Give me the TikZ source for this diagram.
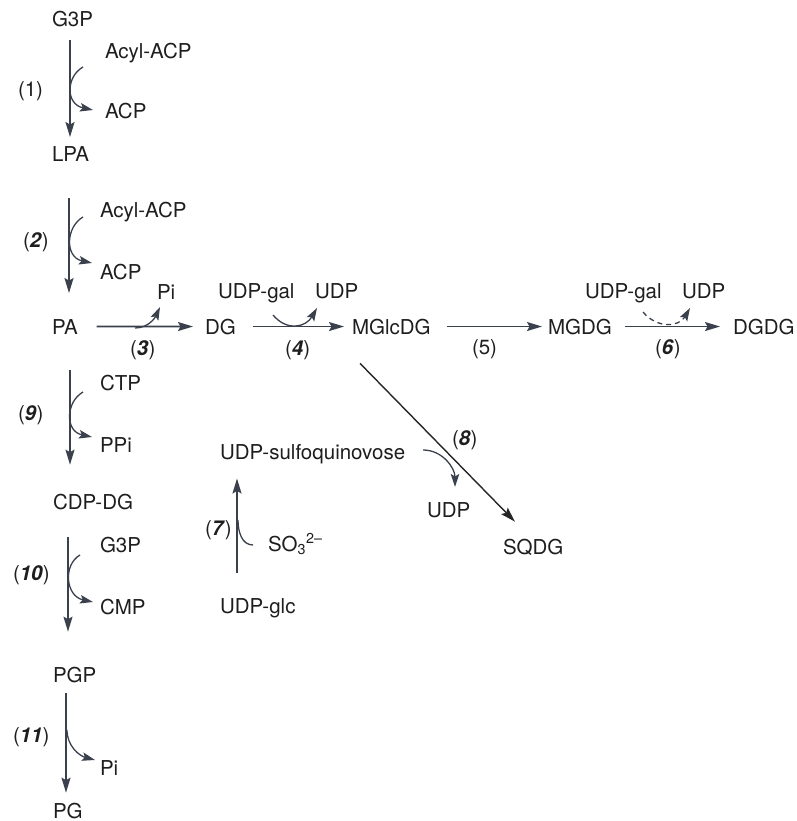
\documentclass[tikz,border=0pt]{standalone}
\usepackage{fontspec}
\setmainfont{TeX Gyre Heros}
\usetikzlibrary{arrows.meta}
\definecolor{rxngray}{RGB}{58,64,76}
\definecolor{txtblack}{RGB}{30,30,30}

\begin{document}
\begin{tikzpicture}[x=1pt,y=1pt,
    cpd/.style={anchor=base west,inner sep=0pt,outer sep=0pt,text=txtblack,font=\fontsize{20.5}{24}\selectfont},
    rxn/.style={line width=1.6pt,draw=rxngray,-{Stealth[length=15pt,width=9pt,inset=2.5pt]}},
    side/.style={line width=1.3pt,draw=rxngray,-{Stealth[length=13pt,width=8.5pt,inset=2.5pt]}}]
    \useasboundingbox (0,0) rectangle (796,-821);

    % glycerolipid backbone
    \node[cpd] (g3pA) at (52,-27) {G3P};
    \node[cpd] (acylA) at (105,-59) {Acyl-ACP};
    \node[cpd] (acpA) at (105,-119) {ACP};
    \node[cpd] (lbA) at (18,-97) {(1)};
    \node[cpd] (lpa) at (52,-162) {LPA};
    \node[cpd] (acylB) at (100,-217) {Acyl-ACP};
    \node[cpd] (lbB) at (23,-247) {(\textbf{\textit{2}})};
    \node[cpd] (acpB) at (100,-279) {ACP};
    \node[cpd] (pa) at (52,-334) {PA};

    % galactolipid branch
    \node[cpd] (piA) at (157,-299) {Pi};
    \node[cpd] (lbC) at (130,-355) {(\textbf{\textit{3}})};
    \node[cpd] (dg) at (205,-334) {DG};
    \node[cpd] (udpgalA) at (218,-298) {UDP-gal};
    \node[cpd] (udpA) at (315,-298) {UDP};
    \node[cpd] (lbD) at (285,-355) {(\textbf{\textit{4}})};
    \node[cpd] (mglcdg) at (352,-334) {MGlcDG};
    \node[cpd] (lbE) at (472,-354) {(5)};
    \node[cpd] (mgdg) at (548,-334) {MGDG};
    \node[cpd] (udpgalB) at (585,-298) {UDP-gal};
    \node[cpd] (udpB) at (682,-298) {UDP};
    \node[cpd] (lbF) at (655,-354) {(\textbf{\textit{6}})};
    \node[cpd] (dgdg) at (733,-334) {DGDG};

    % phospholipid branch
    \node[cpd] (ctp) at (100,-390) {CTP};
    \node[cpd] (lbI) at (18,-420) {(\textbf{\textit{9}})};
    \node[cpd] (ppi) at (100,-452) {PPi};
    \node[cpd] (cdpdg) at (53,-509) {CDP-DG};
    \node[cpd] (g3pB) at (100,-552) {G3P};
    \node[cpd] (lbJ) at (13,-580) {(\textbf{\textit{10}})};
    \node[cpd] (cmp) at (100,-614) {CMP};
    \node[cpd] (pgp) at (53,-682) {PGP};
    \node[cpd] (lbK) at (13,-742) {(\textbf{\textit{11}})};
    \node[cpd] (piB) at (100,-775) {Pi};
    \node[cpd] (pg) at (53,-818) {PG};

    % sulfolipid branch
    \node[cpd] (udpsq) at (220,-459) {UDP-sulfoquinovose};
    \node[cpd] (lbH) at (452,-445) {(\textbf{\textit{8}})};
    \node[cpd] (udpC) at (427,-517) {UDP};
    \node[cpd] (sqdg) at (503,-554) {SQDG};
    \node[cpd] (lbG) at (205,-535) {(\textbf{\textit{7}})};
    \node[cpd] (so3) at (268,-551) {SO\textsubscript{3}\textsuperscript{2–}};
    \node[cpd] (udpglc) at (220,-613) {UDP-glc};

    % main reactions
    \draw[rxn,shorten <=13pt,shorten >=10pt] ([xshift=18pt]g3pA.south west) -- ([xshift=18pt]lpa.north west);
    \draw[rxn,shorten <=36pt,shorten >=26pt] ([xshift=17pt]lpa.south west) -- ([xshift=17pt]pa.north west);
    \draw[rxn,shorten <=36pt,shorten >=29pt] ([xshift=18pt]pa.south west) -- ([xshift=17pt]cdpdg.north west);
    \draw[rxn,shorten <=28pt,shorten >=35pt] ([xshift=15pt]cdpdg.south west) -- ([xshift=15pt]pgp.north west);
    \draw[rxn,shorten <=11pt,shorten >=10pt] ([xshift=13pt]pgp.south west) -- ([xshift=13pt]pg.north west);
    \draw[rxn,shorten <=19pt,shorten >=12pt] (pa.east) -- (dg.west);
    \draw[rxn,shorten <=17pt,shorten >=8pt] (dg.east) -- (mglcdg.west);
    \draw[rxn,shorten <=16pt,shorten >=6pt] (mglcdg.east) -- (mgdg.west);
    \draw[rxn,shorten <=13pt,shorten >=13pt] (mgdg.east) -- (dgdg.west);
    \draw[rxn,shorten <=25pt,shorten >=15pt] ([xshift=17pt]udpglc.north west) -- ([xshift=17pt]udpsq.south west);
    \draw[rxn,draw=black!85,line width=1.4pt] ([shift={(8,-29)}]mglcdg.south west) -- ([shift={(12,17)}]sqdg.north west);

    % co-substrates
    \draw[side] ([shift={(-22,-8)}]acylA.base west) to[out=210,in=168,out distance=20pt,in distance=28pt] ([shift={(-12,9)}]acpA.base west);
    \draw[side] ([shift={(-17,0)}]acylB.base west) to[out=210,in=168,out distance=20pt,in distance=28pt] ([shift={(-8,16)}]acpB.base west);
    \draw[side] ([shift={(-17,-2)}]ctp.base west) to[out=210,in=168,out distance=20pt,in distance=28pt] ([shift={(-8,15)}]ppi.base west);
    \draw[side] ([shift={(-20,-3)}]g3pB.base west) to[out=210,in=168,out distance=20pt,in distance=28pt] ([shift={(-7,12)}]cmp.base west);
    \draw[side] ([shift={(-33,45)}]piB.base west) to[out=-90,in=165] ([shift={(-5,15)}]piB.base west);
    \draw[side] ([shift={(-22,-29)}]piA.base west) to[out=0,in=-115] ([shift={(3,-8)}]piA.base west);
    \draw[side] ([shift={(55,-17)}]udpgalA.base west) to[out=-50,in=-120,out distance=22pt,in distance=22pt] ([shift={(2,-10)}]udpA.base west);
    \draw[side,dash pattern=on 5pt off 4pt] ([shift={(58,-14)}]udpgalB.base west) to[out=-50,in=-120,out distance=22pt,in distance=22pt] ([shift={(8,-10)}]udpB.base west);
    \draw[side] ([shift={(18,9)}]udpsq.base east) to[out=0,in=90] ([shift={(28,30)}]udpC.base west);
    \draw[side,-] ([shift={(-15,6)}]so3.base west) to[out=180,in=-90] ([shift={(18,-61)}]udpsq.base west);
\end{tikzpicture}
\end{document}
